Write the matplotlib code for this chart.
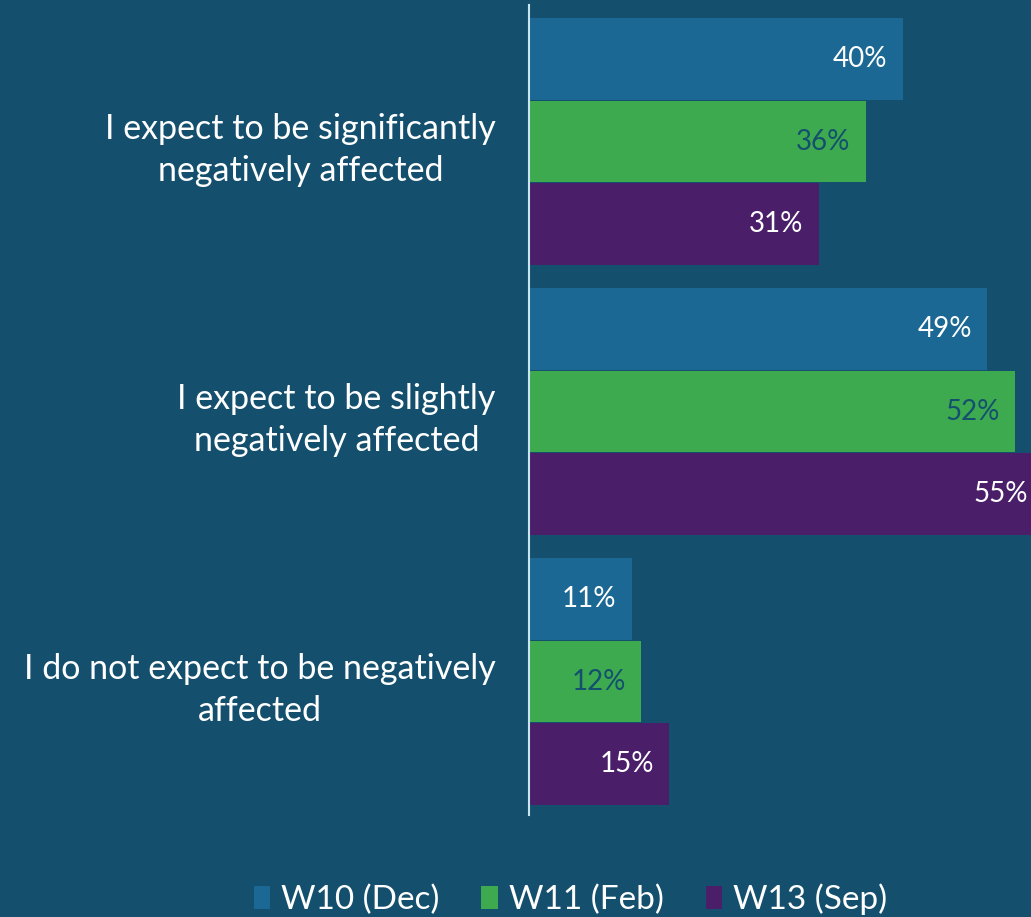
import matplotlib.pyplot as plt
import numpy as np

categories = ['I expect to be significantly\nnegatively affected',
              'I expect to be slightly\nnegatively affected',
              'I do not expect to be negatively\naffected']
series = ['W10 (Dec)', 'W11 (Feb)', 'W13 (Sep)']
w10 = [40, 49, 11]
w11 = [36, 52, 12]
w13 = [31, 55, 15]

bg = '#14506e'
colors = ['#1b6894', '#3daa50', '#4a1e69']
label_colors = ['white', bg, 'white']

plt.rcParams['font.family'] = ['Lato', 'DejaVu Sans']

fig = plt.figure(figsize=(10.31, 9.17), dpi=100, facecolor=bg)
ax = fig.add_axes([529 / 1031, 102 / 917, 502 / 1031, 810 / 917])
ax.set_facecolor(bg)

y = np.arange(len(categories))
h = 0.3056
bars = []
for i, (vals, c, lc, name) in enumerate(zip([w10, w11, w13], colors, label_colors, series)):
    pos = y + (i - 1) * h
    b = ax.barh(pos, vals, height=h * 0.99, color=c, label=name)
    bars.append(b)
    for p, v in zip(pos, vals):
        ax.annotate(f'{v}%', (v, p), xytext=(-11, 0), textcoords='offset points',
                    ha='right', va='center', color=lc, fontsize=20,
                    annotation_clip=False)

ax.set_xlim(0, 53.7)
ax.set_ylim(2.494, -0.5056)
ax.set_xticks([])
ax.set_yticks(y)
ax.set_yticklabels(categories, fontsize=24.5, color='white',
                   multialignment='center', linespacing=1.4)
ax.tick_params(axis='y', length=0, pad=24)
for s in ['top', 'right', 'bottom']:
    ax.spines[s].set_visible(False)
ax.spines['left'].set_color('#c8e6f0')
ax.spines['left'].set_linewidth(1.5)

fig.legend(handles=bars, labels=series, loc='lower center', ncol=3, frameon=False,
           bbox_to_anchor=(0.5534, -0.031), fontsize=24, labelcolor='white',
           handlelength=0.5, handleheight=0.66, handletextpad=0.33, columnspacing=1.25)

fig.savefig('out.png', dpi=100, facecolor=bg)
